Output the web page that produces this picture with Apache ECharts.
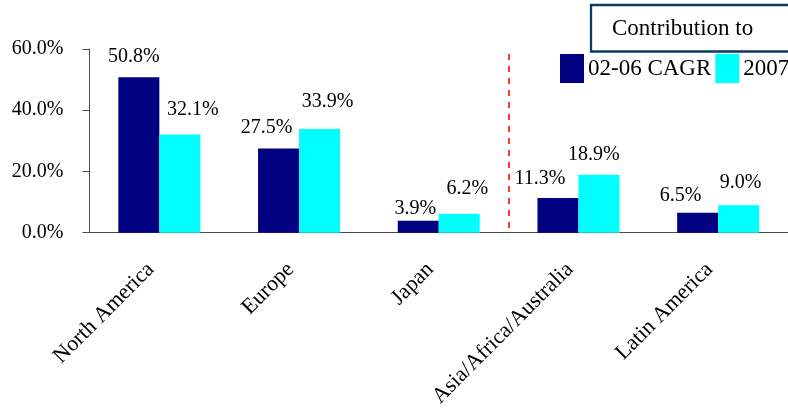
<!DOCTYPE html>
<html>
<head>
<meta charset="utf-8">
<script src="https://cdn.jsdelivr.net/npm/echarts@6/dist/echarts.min.js"></script>
<style>
  html, body { margin: 0; padding: 0; background: #fff; }
  #chart { width: 788px; height: 410px; }
</style>
</head>
<body>
<div id="chart"></div>
<script>
// Regional contribution data
const regions = ['North America', 'Europe', 'Japan', 'Asia/Africa/Australia', 'Latin America'];
const cagr0206 = [50.8, 27.5, 3.9, 11.3, 6.5];
const share2007 = [32.1, 33.9, 6.2, 18.9, 9.0];
const yTicks = [0, 20, 40, 60];
const seriesNames = ['02-06 CAGR', '2007'];
const boxTitle = 'Contribution to';
// Dashed divider sits on the boundary after the third region
const dividerAfter = 3;
const dividerTop = 58.4;

// Hand-placed label nudges [dx, dy] per bar
const nudgeCagr = [[-5, -10], [-12, -11], [-3, -2], [-18, -9], [-17, -7]];
const nudge2007 = [[13, -15], [8, -17], [8, -15], [-5, -10], [2, -12]];

const FONT = '"Liberation Serif", "Times New Roman", serif';
const AXIS_COLOR = '#4a4a4a';

function withLabels(values, nudges) {
  return values.map((v, i) => ({
    value: v,
    label: { offset: nudges[i] }
  }));
}

const labelStyle = {
  show: true,
  position: 'top',
  distance: 0,
  fontFamily: FONT,
  fontSize: 20,
  color: '#000',
  formatter: p => p.value.toFixed(1) + '%'
};

const chart = echarts.init(document.getElementById('chart'), null, { renderer: 'canvas' });

chart.setOption({
  animation: false,
  backgroundColor: '#fff',
  textStyle: { fontFamily: FONT },
  grid: { left: 89.5, right: -4, top: 49, bottom: 176, containLabel: false },
  legend: {
    data: seriesNames,
    left: 560,
    top: 54,
    width: 400,
    padding: 0,
    itemWidth: 24,
    itemHeight: 29,
    itemGap: 4,
    icon: 'rect',
    textStyle: { fontFamily: FONT, fontSize: 23, color: '#000', padding: [0, 0, 0, -1] }
  },
  xAxis: [
    {
      type: 'category',
      data: regions,
      axisLine: { lineStyle: { color: AXIS_COLOR, width: 1 } },
      axisTick: { length: 6, lineStyle: { color: AXIS_COLOR } },
      axisLabel: {
        rotate: 45,
        margin: 25,
        padding: [0, 12, 16, 0],
        fontFamily: FONT,
        fontSize: 22,
        color: '#000',
        interval: 0
      }
    },
    {
      type: 'value',
      min: 0,
      max: regions.length,
      show: false
    }
  ],
  yAxis: {
    type: 'value',
    min: yTicks[0],
    max: yTicks[yTicks.length - 1],
    interval: yTicks[1] - yTicks[0],
    axisLine: { show: true, lineStyle: { color: AXIS_COLOR, width: 1 } },
    axisTick: { show: true, length: 7, lineStyle: { color: AXIS_COLOR } },
    splitLine: { show: false },
    axisLabel: {
      margin: 26,
      padding: [4, 0, 0, 0],
      fontFamily: FONT,
      fontSize: 20,
      color: '#000',
      formatter: v => v.toFixed(1) + '%'
    }
  },
  series: [
    {
      name: seriesNames[0],
      type: 'bar',
      barWidth: 41,
      barGap: '0%',
      itemStyle: { color: '#000080' },
      label: labelStyle,
      data: withLabels(cagr0206, nudgeCagr)
    },
    {
      name: seriesNames[1],
      type: 'bar',
      barWidth: 41,
      barGap: '0%',
      itemStyle: { color: '#00ffff' },
      label: labelStyle,
      data: withLabels(share2007, nudge2007)
    },
    {
      name: 'divider',
      type: 'scatter',
      xAxisIndex: 1,
      symbolSize: 0,
      silent: true,
      data: [[dividerAfter, 0]],
      markLine: {
        silent: true,
        symbol: ['none', 'none'],
        label: { show: false },
        lineStyle: { color: '#ff3333', width: 2, type: [6, 6] },
        data: [[{ coord: [dividerAfter, dividerTop] }, { coord: [dividerAfter, 0] }]]
      }
    }
  ],
  graphic: [
    {
      type: 'rect',
      shape: { x: 591, y: 5, width: 210, height: 46.5 },
      style: { fill: '#fff', stroke: '#0c3a66', lineWidth: 2.3 }
    },
    {
      type: 'text',
      x: 612,
      y: 29,
      style: {
        text: boxTitle,
        font: '23px ' + FONT,
        fill: '#000',
        verticalAlign: 'middle',
        align: 'left'
      }
    }
  ]
});
</script>
</body>
</html>
